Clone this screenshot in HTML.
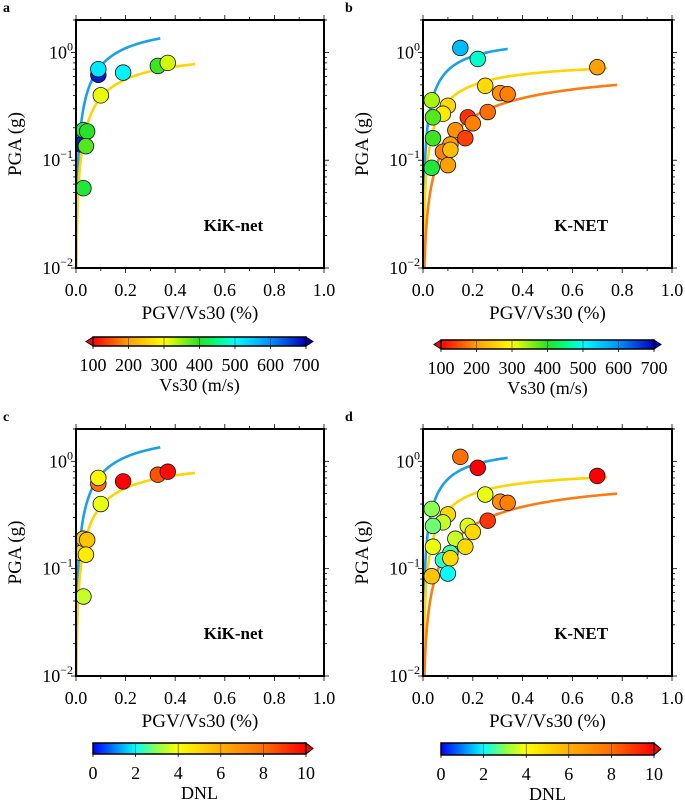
<!DOCTYPE html>
<html><head><meta charset="utf-8"><style>
html,body{margin:0;padding:0;background:#fff}
svg{display:block;font-family:"Liberation Serif",serif}
</style></head><body>
<svg id="fig" width="685" height="805" viewBox="0 0 685 805"></svg>
<script>
// KiK-net data
const kikX   = [0.015,0.02,0.03,0.045,0.04,0.03,0.09,0.09,0.10,0.19,0.33,0.37];
const kikPGA = [0.18,0.14,0.19,0.185,0.135,0.055,0.62,0.70,0.40,0.65,0.75,0.80];
const kikVs  = [560,680,420,400,380,410,680,520,310,510,390,320];
const kikDNL = [5,5,5.5,5.5,4.5,3.5,8,4.2,3.8,10,8.5,9.8];
// K-NET data
const knX   = [0.15,0.22,0.70,0.25,0.31,0.34,0.035,0.10,0.08,0.04,0.18,0.26,0.13,0.20,0.04,0.17,0.11,0.08,0.11,0.035,0.10];
const knPGA = [1.1,0.87,0.73,0.49,0.42,0.41,0.36,0.32,0.27,0.25,0.25,0.28,0.19,0.22,0.16,0.16,0.14,0.12,0.125,0.085,0.09];
const knVs  = [560,480,200,260,190,180,340,260,280,380,130,170,190,180,390,140,200,180,230,410,200];
const knDNL = [8,10,10,3.8,7,7.5,3,5,3.5,2.8,3.7,9,3.5,5,3.8,5,2.5,2.3,5,5.5,2];
// fitted curves: PGA = A*x/(B+x), up to xmax
const kikCurveA = [2.03,1.077];
const kikCurveB = [0.171,0.183];
const kikCurveMax = [0.34,0.48];
const kikCurveColor = ['#1aa0e8','#ffd400'];
const knCurveA = [1.42,0.846,0.763];
const knCurveB = [0.108,0.1415,0.41];
const knCurveMax = [0.34,0.74,0.78];
const knCurveColor = ['#1aa0e8','#ffd400','#ff7a10'];
const xTicks = [0,0.2,0.4,0.6,0.8,1.0];
const xTickLabels = ['0.0','0.2','0.4','0.6','0.8','1.0'];
const yTicks = [-2,-1,0];
const vsTicks = [100,200,300,400,500,600,700];
const dnlTicks = [0,2,4,6,8,10];

const NS='http://www.w3.org/2000/svg';
const svg=document.getElementById('fig');
function el(tag,attrs,parent){const e=document.createElementNS(NS,tag);for(const k in attrs)e.setAttribute(k,attrs[k]);(parent||svg).appendChild(e);return e;}
function lerpC(stops,v){
  if(v<=stops[0][0])return stops[0][1];
  for(let i=1;i<stops.length;i++){if(v<=stops[i][0]){const a=stops[i-1],b=stops[i];const t=(v-a[0])/(b[0]-a[0]);
    const c=[0,1,2].map(j=>Math.round(a[1][j]+(b[1][j]-a[1][j])*t));return c;}}
  return stops[stops.length-1][1];
}
const vsStops=[[100,[255,0,0]],[200,[255,160,0]],[300,[255,255,0]],[400,[40,225,40]],[450,[0,255,128]],[500,[0,255,255]],[600,[0,144,255]],[700,[0,0,190]]];
const dnlStops=[[0,[0,0,255]],[2,[0,255,255]],[3,[140,255,80]],[4,[255,255,0]],[6,[255,176,0]],[8,[255,110,0]],[10,[255,0,0]]];
function rgb(c){return 'rgb('+c.join(',')+')';}

function panel(o){
  const g=el('g',{});
  
  
  const L=o.x0,R=o.x1,T=o.y0,B=o.y1;
  const sx=v=>L+(R-L)*v;
  const ymin=-2,ymax=Math.log10(2);
  const sy=v=>B-(B-T)*(Math.log10(v)-ymin)/(ymax-ymin);
  const lt=el('text',{x:o.lx,y:T-8,'font-size':14,'font-weight':'bold'},g);lt.textContent=o.letter;
  
  const cid='clip'+o.letter;
  const cp=el('clipPath',{id:cid},g);el('rect',{x:L,y:T,width:R-L,height:B-T},cp);
  const cg=el('g',{'clip-path':'url(#'+cid+')'},g);
  for(let i=0;i<o.cA.length;i++){
    let d='';
    for(let k=0;k<=200;k++){const x=0.0005+(o.cM[i]-0.0005)*Math.pow(k/200,2);const y=o.cA[i]*x/(o.cB[i]+x);
      d+=(k?'L':'M')+sx(x).toFixed(2)+','+sy(Math.max(y,0.005)).toFixed(2);}
    const p=el('path',{d:d,fill:'none',stroke:o.cC[i],'stroke-width':2.6},cg);
    
  }
  for(let i=0;i<o.px.length;i++){
    const c=el('circle',{cx:sx(o.px[i]),cy:sy(o.py[i]),r:7.8,fill:rgb(lerpC(o.stops,o.pc[i])),stroke:'#111','stroke-width':0.8},cg);
    
  }
  const fr=el('rect',{x:L,y:T,width:R-L,height:B-T,fill:'none',stroke:'#000','stroke-width':2},g);
  
  for(let v=0;v<=10;v++){const x=sx(v/10);const len=v%2===0?5:3;
    el('line',{x1:x,y1:T,x2:x,y2:T-len,stroke:'#000','stroke-width':0.8},g);
    el('line',{x1:x,y1:B,x2:x,y2:B+len,stroke:'#000','stroke-width':0.8},g);}
  xTicks.forEach((v,i)=>{const t=el('text',{x:sx(v),y:B+28,'font-size':18,'text-anchor':'middle'},g);t.textContent=xTickLabels[i];
    });
  for(let d=-2;d<=0;d++){for(let m=1;m<=9;m++){const v=m*Math.pow(10,d);if(v>2)break;const y=sy(v);const len=m===1?5:3;
    el('line',{x1:L,y1:y,x2:L-len,y2:y,stroke:'#000','stroke-width':0.8},g);
    el('line',{x1:R,y1:y,x2:R+len,y2:y,stroke:'#000','stroke-width':0.8},g);}}
  {const y=sy(2);el('line',{x1:L,y1:y,x2:L-3,y2:y,stroke:'#000','stroke-width':0.8},g);el('line',{x1:R,y1:y,x2:R+3,y2:y,stroke:'#000','stroke-width':0.8},g);}
  yTicks.forEach(e=>{const t=el('text',{x:L-3,y:sy(Math.pow(10,e))+6,'font-size':18,'text-anchor':'end'},g);
    
    const a=el('tspan',{},t);a.textContent='10';
    const b=el('tspan',{'font-size':12,dy:-8},t);b.textContent=(e<0?'\u2212':'')+Math.abs(e);});
  const yt=el('text',{transform:'translate('+(L-55)+','+((T+B)/2)+') rotate(-90)','font-size':19,'text-anchor':'middle'},g);yt.textContent='PGA (g)';
  
  const xt=el('text',{x:(L+R)/2,y:B+51,'font-size':19,'text-anchor':'middle'},g);xt.textContent='PGV/Vs30 (%)';
  
  const nt=el('text',{x:sx(0.635),y:sy(0.022),'font-size':17,'font-weight':'bold','text-anchor':'middle'},g);nt.textContent=o.net;
  
}

function colorbar(o){
  const g=el('g',{});
  
  
  const id='grad'+o.name;
  const lg=el('linearGradient',{id:id,x1:0,x2:1,y1:0,y2:0},g);
  const lo=o.ticks[0],hi=o.ticks[o.ticks.length-1];
  o.stops.forEach(s=>el('stop',{offset:(s[0]-lo)/(hi-lo),'stop-color':rgb(s[1])},lg));
  const h=o.y1-o.y0;
  if(o.leftArrow){el('polygon',{points:(o.x0)+','+o.y0+' '+(o.x0-7)+','+(o.y0+h/2)+' '+o.x0+','+o.y1,fill:rgb(o.stops[0][1]),stroke:'#000','stroke-width':1},g);}
  el('polygon',{points:(o.x1)+','+o.y0+' '+(o.x1+7)+','+(o.y0+h/2)+' '+o.x1+','+o.y1,fill:rgb(o.stops[o.stops.length-1][1]),stroke:'#000','stroke-width':1},g);
  el('rect',{x:o.x0,y:o.y0,width:o.x1-o.x0,height:h,fill:'url(#'+id+')',stroke:'#000','stroke-width':1.5},g);
  o.ticks.forEach((v,i)=>{const x=o.x0+(o.x1-o.x0)*(v-lo)/(hi-lo);
    if(i>0&&i<o.ticks.length-1)el('line',{x1:x,y1:o.y0,x2:x,y2:o.y1,stroke:'#333','stroke-width':0.6},g);
    el('line',{x1:x,y1:o.y1,x2:x,y2:o.y1+3,stroke:'#000','stroke-width':0.8},g);
    const t=el('text',{x:x,y:o.y1+25,'font-size':18,'text-anchor':'middle'},g);t.textContent=v;
    });
  const t=el('text',{x:(o.x0+o.x1)/2,y:o.y1+45,'font-size':18,'text-anchor':'middle'},g);t.textContent=o.title;
  
}

panel({name:'panel-a',letter:'a',lx:3,x0:76,x1:324,y0:20,y1:268,px:kikX,py:kikPGA,pc:kikVs,stops:vsStops,cA:kikCurveA,cB:kikCurveB,cM:kikCurveMax,cC:kikCurveColor,net:'KiK-net'});
panel({name:'panel-b',letter:'b',lx:345,x0:423,x1:672,y0:20,y1:268,px:knX,py:knPGA,pc:knVs,stops:vsStops,cA:knCurveA,cB:knCurveB,cM:knCurveMax,cC:knCurveColor,net:'K-NET'});
panel({name:'panel-c',letter:'c',lx:3,x0:76,x1:324,y0:429,y1:676,px:kikX,py:kikPGA,pc:kikDNL,stops:dnlStops,cA:kikCurveA,cB:kikCurveB,cM:kikCurveMax,cC:kikCurveColor,net:'KiK-net'});
panel({name:'panel-d',letter:'d',lx:345,x0:423,x1:672,y0:429,y1:676,px:knX,py:knPGA,pc:knDNL,stops:dnlStops,cA:knCurveA,cB:knCurveB,cM:knCurveMax,cC:knCurveColor,net:'K-NET'});
colorbar({name:'colorbar-vs30-a',x0:93,x1:306,y0:337,y1:346,ticks:vsTicks,stops:vsStops,leftArrow:true,title:'Vs30 (m/s)'});
colorbar({name:'colorbar-vs30-b',x0:441,x1:654,y0:340,y1:349,ticks:vsTicks,stops:vsStops,leftArrow:true,title:'Vs30 (m/s)'});
colorbar({name:'colorbar-dnl-c',x0:93,x1:306,y0:743,y1:754,ticks:dnlTicks,stops:dnlStops,leftArrow:false,title:'DNL'});
colorbar({name:'colorbar-dnl-d',x0:441,x1:654,y0:743,y1:755,ticks:dnlTicks,stops:dnlStops,leftArrow:false,title:'DNL'});
</script>
</body></html>
